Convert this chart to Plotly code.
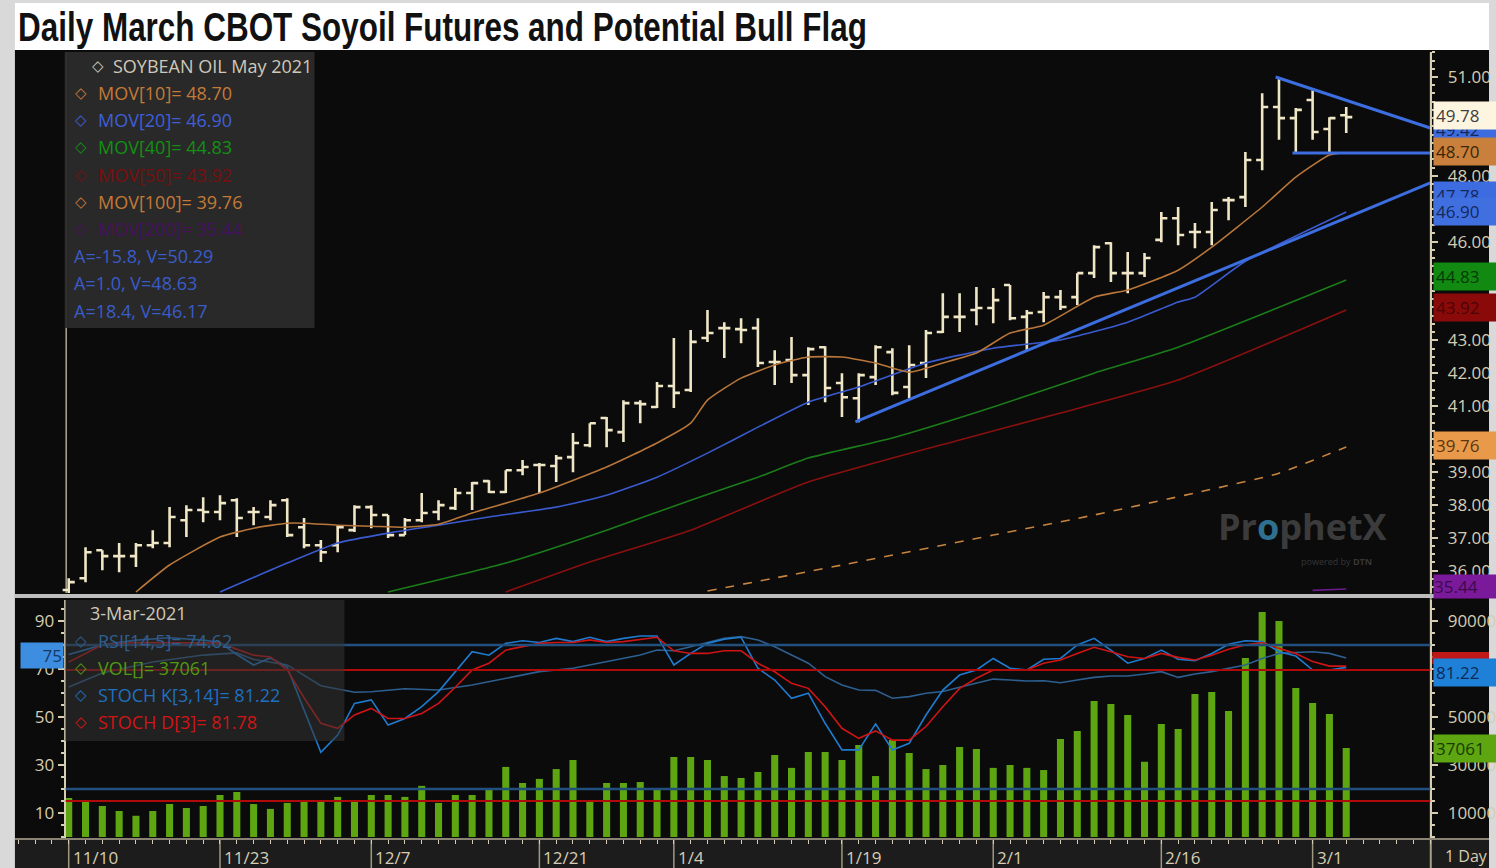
import plotly.graph_objects as go

W, H = 1496, 868
FONT = "Open Sans"
TITLE_FONT = "Liberation Sans, Arial, sans-serif"
BEIGE = "#d6cdb2"

# ---------------- data ----------------
date_tick_idx = [0, 9, 18, 28, 36, 46, 55, 65, 74]
date_tick_lbl = ["11/10", "11/23", "12/7", "12/21", "1/4", "1/19", "2/1", "2/16", "3/1"]

opens = [35.41, 35.77, 36.62, 36.44, 36.44, 36.77, 36.84, 37.53, 37.84, 37.78,
         38.14, 37.78, 37.63, 38.14, 37.32, 36.77, 36.77, 37.23, 37.93, 37.69,
         37.08, 37.53, 37.78, 37.90, 38.36, 38.72, 38.39, 39.05, 39.21, 39.18,
         39.45, 39.81, 40.64, 40.21, 41.09, 40.97, 41.61, 41.49, 43.07, 43.37,
         43.34, 43.37, 42.34, 42.40, 41.94, 42.79, 41.70, 41.24, 41.88, 42.64,
         41.58, 42.31, 43.25, 43.71, 43.92, 43.98, 44.68, 43.71, 43.86, 44.31,
         44.31, 45.04, 45.95, 45.04, 45.04, 46.05, 46.71, 46.29, 46.29, 47.26,
         47.35, 48.48, 50.09, 49.75, 50.30, 49.42, 49.84]
highs = [35.77, 36.71, 36.62, 36.84, 36.84, 37.23, 37.93, 37.99, 38.23, 38.29,
         38.20, 37.93, 38.14, 38.20, 37.60, 36.93, 37.38, 37.99, 37.99, 37.69,
         37.60, 38.36, 38.14, 38.51, 38.69, 38.75, 39.05, 39.36, 39.27, 39.51,
         40.18, 40.48, 40.67, 41.18, 41.18, 41.73, 43.07, 43.31, 43.92, 43.55,
         43.67, 43.67, 42.70, 43.10, 42.79, 42.82, 42.00, 42.00, 42.85, 42.76,
         42.85, 43.31, 44.43, 44.43, 44.62, 44.59, 44.68, 43.92, 44.47, 44.53,
         45.04, 45.89, 45.98, 45.68, 45.65, 46.90, 47.05, 46.56, 47.20, 47.35,
         48.72, 50.51, 51.00, 50.06, 50.60, 49.78, 50.09]
lows = [35.20, 35.65, 36.01, 35.95, 36.11, 36.68, 36.71, 37.02, 37.47, 37.53,
        37.02, 37.38, 37.53, 37.02, 36.68, 36.26, 36.56, 37.17, 37.29, 36.99,
        37.08, 37.47, 37.53, 37.84, 37.84, 38.36, 38.36, 38.90, 38.36, 38.69,
        38.99, 39.75, 39.75, 39.91, 40.48, 40.94, 40.94, 41.43, 42.95, 42.46,
        42.91, 42.19, 41.64, 41.70, 41.03, 41.12, 40.67, 40.51, 41.64, 41.33,
        41.24, 41.85, 43.22, 43.25, 43.46, 43.52, 43.61, 42.70, 43.55, 43.92,
        44.07, 44.89, 44.77, 44.43, 44.92, 45.98, 45.89, 45.80, 45.89, 46.65,
        47.05, 48.17, 49.09, 48.69, 49.09, 48.72, 49.30]
closes = [35.65, 36.56, 36.44, 36.44, 36.77, 36.84, 37.63, 37.84, 37.78, 38.05,
          37.60, 37.78, 37.99, 37.08, 36.77, 36.56, 37.32, 37.93, 37.69, 37.08,
          37.53, 37.75, 37.99, 38.36, 38.66, 38.39, 39.05, 39.15, 39.21, 39.42,
          39.88, 40.48, 40.27, 41.09, 41.06, 41.61, 41.40, 42.95, 43.22, 43.37,
          43.31, 42.31, 42.34, 41.94, 42.73, 41.55, 41.27, 41.94, 42.79, 41.40,
          42.25, 43.22, 43.71, 43.71, 43.98, 44.22, 43.67, 43.83, 44.31, 44.01,
          45.04, 45.83, 45.04, 45.04, 45.50, 46.71, 46.20, 46.29, 46.96, 47.26,
          48.48, 50.09, 49.75, 50.00, 49.33, 49.75, 49.78]
volume = [16200, 14600, 12900, 10800, 8800, 10800, 13700, 12100, 12900, 17500,
          18700, 13700, 11700, 14200, 15000, 15000, 16700, 15000, 17500, 17500,
          16700, 21300, 14200, 17500, 17500, 20400, 29200, 22500, 24200, 28300,
          32100, 14600, 22500, 22500, 22900, 19600, 33300, 33300, 32100, 25400,
          24600, 27100, 34200, 28800, 35400, 35400, 32100, 38300, 25400, 40400,
          35000, 28300, 30000, 37500, 36700, 28800, 30000, 28800, 27900, 40800,
          44200, 56700, 55400, 50800, 31300, 47100, 45000, 59600, 60400, 52500,
          74600, 93800, 90000, 62100, 55800, 51200, 37061]

ma10_idx = [4, 6, 9, 11, 13, 14, 16, 18, 20, 22, 24, 28, 32, 35, 37, 38, 40, 42, 44, 46,
            48, 50, 52, 54, 56, 58, 61, 63, 66, 68, 71, 73, 75, 76]
ma10_val = [35.35, 36.17, 37.02, 37.29, 37.44, 37.44, 37.38, 37.35, 37.32, 37.41, 37.75,
            38.36, 39.15, 39.88, 40.48, 41.18, 41.85, 42.25, 42.49, 42.49, 42.31, 42.03,
            42.31, 42.61, 43.22, 43.46, 44.31, 44.53, 45.13, 45.83, 47.05, 47.96, 48.63, 48.70]
ma20_idx = [9, 13, 16, 19, 22, 25, 29, 32, 35, 38, 41, 44, 47, 51, 55, 59, 63, 66, 67, 70, 76]
ma20_val = [35.35, 36.23, 36.84, 37.14, 37.38, 37.63, 37.93, 38.29, 38.84, 39.57, 40.36,
            41.12, 41.58, 42.31, 42.76, 43.01, 43.55, 44.16, 44.31, 45.40, 46.90]
ma40_idx = [19, 26, 32, 37, 41, 44, 49, 55, 61, 66, 76]
ma40_val = [35.35, 36.23, 37.23, 38.14, 38.84, 39.42, 40.03, 40.97, 42.00, 42.79, 44.83]
ma50_idx = [26, 31, 37, 44, 53, 59, 66, 76]
ma50_val = [35.35, 36.26, 37.23, 38.69, 39.97, 40.79, 41.79, 43.92]
ma100_idx = [38, 46, 55, 61, 67, 72, 76]
ma100_val = [35.38, 36.17, 37.08, 37.69, 38.36, 38.96, 39.76]
ma200_idx = [74, 76]
ma200_val = [35.40, 35.44]

res_x, res_y = [71.8, 81.0], [51.00, 49.45]
flat_x, flat_y = [72.8, 81.0], [48.69, 48.69]
sup_x, sup_y = [46.8, 81.0], [40.52, 47.78]

rsi_idx = [0, 2, 5, 8, 10, 11, 13, 15, 17, 18, 20, 22, 24, 26, 28, 30, 32, 34, 35, 36,
           37, 38, 39, 40, 41, 42, 43, 44, 45, 46, 47, 48, 49, 50, 51, 52, 53, 54, 55, 56,
           57, 58, 59, 60, 61, 62, 63, 64, 65, 66, 67, 68, 69, 70, 71, 72, 73, 74, 75, 76]
rsi_val = [62.5, 68.3, 72.9, 75.8, 76.7, 74.0, 71.7, 63.0, 60.3, 60.5, 61.8, 61.25, 63.3,
           66.1, 68.9, 70.3, 73.1, 75.8, 77.9, 77.6, 79.3, 81.0, 82.8, 83.5, 82.1, 79.3,
           75.8, 72.4, 66.8, 63.3, 61.25, 61.1, 57.8, 58.5, 59.9, 60.6, 62.4, 64.0, 65.8,
           65.4, 65.0, 65.1, 64.3, 65.4, 66.5, 67.1, 67.1, 67.9, 68.9, 66.5, 67.9, 68.9,
           70.3, 71.7, 74.4, 76.5, 76.9, 77.2, 76.5, 74.62]

k_idx = [0, 2, 4, 6, 8] + list(range(9, 77))
k_val = [87.1, 91.5, 93.7, 94.8, 93.7, 92.6, 87.1, 82.3, 85.5, 81.3, 61.7, 42.3, 50.2,
         64.7, 66.3, 54.8, 57.8, 63.2, 70.1, 79.2, 88.4, 86.8, 92.2, 93.4, 92.6, 94.5,
         93.0, 95.0, 93.0, 94.5, 95.6, 95.6, 82.3, 87.6, 92.2, 94.1, 95.0, 80.8, 75.4,
         67.0, 69.4, 55.6, 43.4, 43.4, 55.3, 43.4, 46.4, 59.4, 70.8, 77.7, 80.0, 85.3,
         80.8, 80.0, 84.9, 85.3, 91.5, 94.5, 89.1, 83.1, 85.3, 89.1, 84.9, 84.3, 87.6,
         91.8, 93.4, 93.0, 88.4, 86.4, 80.0, 80.0, 81.22]
d_idx = [0, 2, 4, 6, 8, 9] + list(range(11, 77))
d_val = [83.6, 91.5, 92.6, 92.6, 92.6, 92.3, 86.8, 86.0, 80.0, 67.3, 55.6, 53.3, 59.4,
         62.4, 57.8, 57.8, 60.1, 64.7, 72.1, 80.0, 83.1, 89.1, 90.7, 92.2, 92.6, 92.6,
         93.8, 92.6, 93.0, 94.1, 95.0, 88.8, 87.6, 87.6, 88.8, 88.8, 83.1, 79.2, 73.9,
         71.6, 63.2, 53.3, 48.7, 52.1, 47.9, 47.9, 54.1, 63.2, 71.6, 76.2, 80.0, 80.0,
         80.0, 83.1, 84.6, 87.6, 90.4, 88.4, 86.1, 85.3, 87.6, 85.8, 84.6, 86.8, 89.5,
         91.5, 92.6, 89.9, 87.6, 83.9, 81.8, 81.78]

price_ticks = [36, 37, 38, 39, 40, 41, 42, 43, 44, 45, 46, 47, 48, 49, 50, 51]
price_tick_text = ["36.00", "37.00", "38.00", "39.00", "", "41.00", "42.00", "43.00", "",
                   "", "46.00", "", "48.00", "", "", "51.00"]
osc_ticks = [10, 30, 50, 70, 90]
vol_ticks = [10000, 30000, 50000, 70000, 90000]
vol_tick_text = ["10000", "30000", "50000", "", "90000"]

main_legend = [("MOV[10]= 48.70", "#c47a38"), ("MOV[20]= 46.90", "#3f5fd8"),
               ("MOV[40]= 44.83", "#139013"), ("MOV[50]= 43.92", "#7a0e0e"),
               ("MOV[100]= 39.76", "#c47a38"), ("MOV[200]= 35.44", "#4a1060")]
line_legend = ["A=-15.8, V=50.29", "A=1.0, V=48.63", "A=18.4, V=46.17"]
osc_legend = [("RSI[14,5]= 74.62", "#2f5f90"), ("VOL[]= 37061", "#4f9a10"),
              ("STOCH K[3,14]= 81.22", "#1f70c0"), ("STOCH D[3]= 81.78", "#d01515")]

# price value boxes on right axis: (value, text, bg, fg, pad)
price_boxes = [(49.40, "49.42", "#3d6be0", "#14285a", 2), (49.82, "49.78", "#fdf5e0", "#404040", 2),
               (47.40, "47.78", "#3d6be0", "#14285a", 2),
               (48.75, "48.70", "#c8803c", "#3a2508", 2),
               (46.92, "46.90", "#4070e0", "#14285a", 2), (44.93, "44.83", "#128a12", "#053a05", 2),
               (44.00, "43.92", "#8a0a0a", "#4a0505", 2), (39.80, "39.76", "#e89a4a", "#5a3510", 2),
               (35.53, "35.44", "#7a1a9a", "#3a0a4a", 0)]

# ---------------- layout helpers ----------------
X_RANGE = [-3.2, 81.0]
def px(x):
    return x / W
def py(y):
    return 1 - y / H

fig = go.Figure()

# lower panel
fig.add_trace(go.Bar(x=list(range(len(volume))), y=volume, xaxis="x2", yaxis="y2",
                     marker=dict(color="#5ea512", line=dict(width=0)), width=0.42))
fig.add_trace(go.Scatter(x=rsi_idx, y=rsi_val, xaxis="x2", yaxis="y3", mode="lines",
                         line=dict(color="#2d5f90", width=1.6)))
fig.add_trace(go.Scatter(x=k_idx, y=k_val, xaxis="x2", yaxis="y4", mode="lines",
                         line=dict(color="#1f7bd0", width=1.6)))
fig.add_trace(go.Scatter(x=d_idx, y=d_val, xaxis="x2", yaxis="y4", mode="lines",
                         line=dict(color="#d01414", width=1.6)))

# main panel
for ix, vals, col, dash in [(ma100_idx, ma100_val, "#c8843e", "dash"),
                            (ma200_idx, ma200_val, "#6a1a8a", "solid"),
                            (ma50_idx, ma50_val, "#8a1010", "solid"),
                            (ma40_idx, ma40_val, "#1a7d1a", "solid"),
                            (ma20_idx, ma20_val, "#3a5bd0", "solid"),
                            (ma10_idx, ma10_val, "#b8763a", "solid")]:
    fig.add_trace(go.Scatter(x=ix, y=vals, mode="lines", xaxis="x", yaxis="y",
                             line=dict(color=col, width=1.6, dash=dash, shape="spline", smoothing=0.5)))
for tx, ty in [(res_x, res_y), (flat_x, flat_y), (sup_x, sup_y)]:
    fig.add_trace(go.Scatter(x=tx, y=ty, mode="lines", xaxis="x", yaxis="y",
                             line=dict(color="#3c6ee0", width=3)))
fig.add_trace(go.Ohlc(x=list(range(len(opens))), open=opens, high=highs, low=lows, close=closes,
                      xaxis="x", yaxis="y", tickwidth=0.36,
                      increasing=dict(line=dict(color="#efe6c6", width=2.6)),
                      decreasing=dict(line=dict(color="#efe6c6", width=2.6))))

axfont = dict(family=FONT, size=17, color=BEIGE)
layout = dict(
    width=W, height=H, margin=dict(l=0, r=0, t=0, b=0),
    paper_bgcolor="#d9d9d9", plot_bgcolor="rgba(0,0,0,0)", showlegend=False,
    xaxis=dict(domain=[px(15), px(1437)], range=X_RANGE, showticklabels=False, ticks="",
               showgrid=False, zeroline=False, showline=False, rangeslider=dict(visible=False)),
    yaxis=dict(domain=[py(593), py(52)], range=[35.32, 51.76], side="right", anchor="x",
               tickmode="array", tickvals=price_ticks, ticktext=price_tick_text,
               ticks="outside", ticklen=6, tickwidth=1.5, tickcolor=BEIGE, tickfont=axfont,
               ticklabelstandoff=6,
               showgrid=False, zeroline=False, showline=True, linecolor=BEIGE, linewidth=2,
               minor=dict(dtick=0.25, ticks="outside", ticklen=3, tickcolor=BEIGE, showgrid=False)),
    xaxis2=dict(domain=[px(15), px(1437)], range=X_RANGE, anchor="y2", showticklabels=False,
                tickmode="linear", tick0=0, dtick=1, ticks="outside", ticklen=4, tickcolor=BEIGE,
                showgrid=False, zeroline=False, showline=True, linecolor="#8a8272", linewidth=2),
    yaxis2=dict(domain=[py(838), py(600)], range=[-420, 98750], side="right", anchor="x2",
                tickmode="array", tickvals=vol_ticks, ticktext=vol_tick_text,
                ticks="outside", ticklen=6, tickwidth=1.5, tickcolor=BEIGE, tickfont=axfont,
                ticklabelstandoff=6,
                showgrid=False, zeroline=False, showline=True, linecolor=BEIGE, linewidth=2,
                minor=dict(dtick=5000, ticks="outside", ticklen=3, tickcolor=BEIGE, showgrid=False)),
    yaxis3=dict(overlaying="y2", anchor="free", position=px(65), side="left",
                range=[-0.42, 98.75], tickmode="array", tickvals=osc_ticks,
                ticks="outside", ticklen=6, tickwidth=1.5, tickcolor=BEIGE, tickfont=axfont,
                showgrid=False, zeroline=False, showline=True, linecolor=BEIGE, linewidth=2,
                minor=dict(dtick=5, ticks="outside", ticklen=3, tickcolor=BEIGE, showgrid=False)),
    yaxis4=dict(overlaying="y2", range=[3.04, 112.07], visible=False),
)
fig.update_layout(**layout)

shapes = []
def rect(x0, y0, x1, y1, fill, layer="below"):
    shapes.append(dict(type="rect", xref="paper", yref="paper", x0=px(x0), x1=px(x1),
                       y0=py(y1), y1=py(y0), fillcolor=fill, line=dict(width=0), layer=layer))
def hline_px(x0, x1, y, color, w, layer="below"):
    shapes.append(dict(type="line", xref="paper", yref="paper", x0=px(x0), x1=px(x1),
                       y0=py(y), y1=py(y), line=dict(color=color, width=w), layer=layer))
def vline_px(x, y0, y1, color, w, layer="below"):
    shapes.append(dict(type="line", xref="paper", yref="paper", x0=px(x), x1=px(x),
                       y0=py(y0), y1=py(y1), line=dict(color=color, width=w), layer=layer))

rect(15, 3, W, 50, "#ffffff")
rect(15, 50, W, 840, "#0b0b0b")
rect(15, 840, W, H, "#1c1c1c")
hline_px(15, W, 839, "#8a8272", 2)
vline_px(1437.5, 52, H, "#a89f88", 2)
vline_px(66.5, 52, 593, "#b0a88f", 1.5)
for ti in date_tick_idx:
    shapes.append(dict(type="line", xref="x2", yref="paper", x0=ti, x1=ti, y0=py(839), y1=0,
                       line=dict(color="#a0987f", width=1.5), layer="below"))
# oscillator reference lines
for yv, yr, col, w in [(80, "y3", "#22507e", 2.5), (20, "y3", "#22507e", 2.5),
                       (80, "y4", "#b00a0a", 2), (20, "y4", "#b00a0a", 2)]:
    shapes.append(dict(type="line", xref="paper", yref=yr, x0=px(66), x1=px(1437), y0=yv, y1=yv,
                       line=dict(color=col, width=w), layer="above"))
rect(65, 52, 316, 328, "rgba(43,43,43,0.96)", layer="above")
rect(65, 600, 346, 741, "rgba(52,52,52,0.55)", layer="above")
# panel separator
rect(15, 594, W, 598, "#bdbdbd", layer="above")
# hidden STOCH D value box peeking above the K box
rect(1439, 652, W, 664, "#c01818", layer="above")
fig.update_layout(shapes=shapes)

anns = []
def ann(text, x, y, color, size=17, family=FONT, xanchor="left", **kw):
    anns.append(dict(text=text, x=px(x), y=py(y), xref="paper", yref="paper", xanchor=xanchor,
                     yanchor="middle", showarrow=False,
                     font=dict(family=family, size=size, color=color), **kw))

ann("<b>Daily March CBOT Soyoil Futures and Potential Bull Flag</b>", 16, 27, "#111111",
    size=40, family=TITLE_FONT)

# main legend
ann("◇", 90, 66, "#d0c8b8", size=15, family="DejaVu Sans")
ann("SOYBEAN OIL May 2021", 112, 66, "#d0c8b8", size=18)
for k, (txt, col) in enumerate(main_legend):
    yy = 93 + k * 27.2
    ann("◇", 73, yy, col, size=15, family="DejaVu Sans")
    ann(txt, 96, yy, col, size=18)
for k, txt in enumerate(line_legend):
    ann(txt, 72, 256 + k * 27.3, "#3a5cc8", size=18)

# lower legend
ann("3-Mar-2021", 88, 613, "#d0c8b8", size=18)
for k, (txt, col) in enumerate(osc_legend):
    yy = 641 + k * 27
    ann("◇", 73, yy, col, size=15, family="DejaVu Sans")
    ann(txt, 96, yy, col, size=18)

# price boxes
for val, txt, bg, fg, pad in price_boxes:
    anns.append(dict(text=txt, x=px(1440), y=val, xref="paper", yref="y", xanchor="left",
                     yanchor="middle", showarrow=False, bgcolor=bg, borderpad=pad, width=70,
                     align="left", font=dict(family=FONT, size=17, color=fg)))
# oscillator boxes
anns.append(dict(text="75", x=px(20), y=rsi_val[-1] + 0.8, xref="paper", yref="y3", xanchor="left",
                 yanchor="middle", showarrow=False, bgcolor="#3d8de0", borderpad=1, width=40,
                 align="right", font=dict(family=FONT, size=17, color="#143a66")))
anns.append(dict(text="81.22", x=px(1440), y=k_val[-1] - 2.5, xref="paper", yref="y4", xanchor="left",
                 yanchor="middle", showarrow=False, bgcolor="#1f80d8", borderpad=2, width=70,
                 align="left", font=dict(family=FONT, size=17, color="#0e2a55")))
anns.append(dict(text="37061", x=px(1440), y=volume[-1], xref="paper", yref="y2", xanchor="left",
                 yanchor="middle", showarrow=False, bgcolor="#5ea512", borderpad=2, width=70,
                 align="left", font=dict(family=FONT, size=17, color="#1a3a00")))

# date labels
for ti, tl in zip(date_tick_idx, date_tick_lbl):
    anns.append(dict(text=tl, x=ti, y=py(857), xref="x2", yref="paper", xanchor="left",
                     yanchor="middle", xshift=2, showarrow=False, font=axfont))
ann("1 Day", 1450, 856, BEIGE, size=16)

# watermark
ann("<b>Pr<span style='color:#2f6f8f'>o</span>phetX</b>", 1222, 526, "#3b3b3b", size=36)
ann("powered by <b>DTN</b>", 1305, 561, "#363636", size=9)

fig.update_layout(annotations=anns)

post = """
document.body.style.margin='0';document.body.style.overflow='hidden';
var gd=document.getElementById('{plot_id}');
var ts=gd.querySelectorAll('text.annotation-text');
for(var i=0;i<ts.length;i++){
  var t=ts[i];
  if(t.textContent.indexOf('Daily March')===0){
    var b=t.getBBox(); var s=849/b.width;
    var tr=t.getAttribute('transform')||'';
    t.setAttribute('transform', tr+' translate('+b.x+',0) scale('+s+',1) translate('+(-b.x)+',0)');
  }
}
"""
fig.write_html("out.html", config={"displayModeBar": False}, post_script=post)
